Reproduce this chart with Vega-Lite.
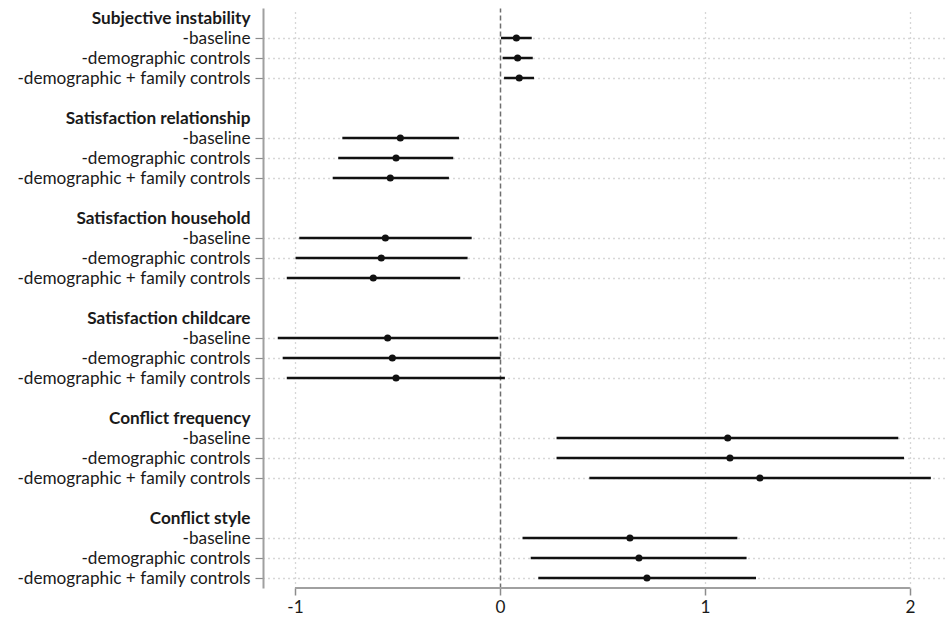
{
  "$schema": "https://vega.github.io/schema/vega-lite/v6.json",
  "autosize": "none",
  "width": 682,
  "height": 580,
  "padding": {"left": 263, "top": 8, "right": 5, "bottom": 31},
  "background": "white",
  "config": {
    "view": {"stroke": null},
    "font": "Lato",
    "axis": {"labelFont": "Lato", "labelColor": "#1a1a1a"}
  },
  "datasets": {
    "coefs": [
      {"row": "Subjective instability|-baseline", "est": 0.08, "lo": 0.005, "hi": 0.155},
      {"row": "Subjective instability|-demographic controls", "est": 0.086, "lo": 0.013, "hi": 0.16},
      {"row": "Subjective instability|-demographic + family controls", "est": 0.094, "lo": 0.02, "hi": 0.166},
      {"row": "Satisfaction relationship|-baseline", "est": -0.486, "lo": -0.769, "hi": -0.2},
      {"row": "Satisfaction relationship|-demographic controls", "est": -0.507, "lo": -0.789, "hi": -0.228},
      {"row": "Satisfaction relationship|-demographic + family controls", "est": -0.535, "lo": -0.816, "hi": -0.249},
      {"row": "Satisfaction household|-baseline", "est": -0.559, "lo": -0.979, "hi": -0.138},
      {"row": "Satisfaction household|-demographic controls", "est": -0.579, "lo": -0.997, "hi": -0.158},
      {"row": "Satisfaction household|-demographic + family controls", "est": -0.618, "lo": -1.04, "hi": -0.194},
      {"row": "Satisfaction childcare|-baseline", "est": -0.548, "lo": -1.084, "hi": -0.008},
      {"row": "Satisfaction childcare|-demographic controls", "est": -0.525, "lo": -1.06, "hi": 0.003},
      {"row": "Satisfaction childcare|-demographic + family controls", "est": -0.507, "lo": -1.04, "hi": 0.024},
      {"row": "Conflict frequency|-baseline", "est": 1.111, "lo": 0.276, "hi": 1.943},
      {"row": "Conflict frequency|-demographic controls", "est": 1.122, "lo": 0.276, "hi": 1.971},
      {"row": "Conflict frequency|-demographic + family controls", "est": 1.268, "lo": 0.436, "hi": 2.102},
      {"row": "Conflict style|-baseline", "est": 0.634, "lo": 0.11, "hi": 1.158},
      {"row": "Conflict style|-demographic controls", "est": 0.678, "lo": 0.15, "hi": 1.203},
      {"row": "Conflict style|-demographic + family controls", "est": 0.717, "lo": 0.187, "hi": 1.249}
    ]
  },
  "resolve": {"scale": {"y": "independent"}},
  "layer": [
    {
      "data": {"name": "coefs"},
      "mark": {"type": "rule", "color": "#111111", "strokeWidth": 2.5},
      "encoding": {
        "y": {
          "field": "row", "type": "nominal", "title": null,
          "scale": {
            "type": "point", "padding": 0.5,
            "domain": [
              "Subjective instability", "Subjective instability|-baseline", "Subjective instability|-demographic controls", "Subjective instability|-demographic + family controls",
              "gap1",
              "Satisfaction relationship", "Satisfaction relationship|-baseline", "Satisfaction relationship|-demographic controls", "Satisfaction relationship|-demographic + family controls",
              "gap2",
              "Satisfaction household", "Satisfaction household|-baseline", "Satisfaction household|-demographic controls", "Satisfaction household|-demographic + family controls",
              "gap3",
              "Satisfaction childcare", "Satisfaction childcare|-baseline", "Satisfaction childcare|-demographic controls", "Satisfaction childcare|-demographic + family controls",
              "gap4",
              "Conflict frequency", "Conflict frequency|-baseline", "Conflict frequency|-demographic controls", "Conflict frequency|-demographic + family controls",
              "gap5",
              "Conflict style", "Conflict style|-baseline", "Conflict style|-demographic controls", "Conflict style|-demographic + family controls"
            ]
          },
          "axis": {
            "labelExpr": "indexof(datum.value,'|') >= 0 ? substring(datum.value, indexof(datum.value,'|') + 1) : (indexof(datum.value,'gap') === 0 ? '' : datum.value)",
            "labelFontSize": 17.2,
            "labelLimit": 400,
            "labelFontWeight": {"condition": {"test": "indexof(datum.value,'|') < 0", "value": "bold"}, "value": "normal"},
            "labelPadding": 5,
            "tickSize": 8,
            "tickColor": "#8c8c8c",
            "tickWidth": 1.2,
            "tickOpacity": {"condition": {"test": "indexof(datum.value,'|') < 0", "value": 0}, "value": 1},
            "domainColor": "#a0a0a0",
            "domainWidth": 2,
            "grid": true,
            "gridColor": "#b0b0b0",
            "gridDash": [1, 4],
            "gridWidth": 1.3,
            "gridOpacity": {"condition": {"test": "indexof(datum.value,'|') < 0", "value": 0}, "value": 1}
          }
        },
        "x": {
          "field": "lo", "type": "quantitative", "title": null,
          "scale": {"domain": [-1.156, 2.171], "nice": false, "zero": false},
          "axis": {
            "values": [-1, 0, 1, 2],
            "labelExpr": "'' + datum.value",
            "domain": false,
            "labelFontSize": 17.2,
            "labelPadding": 3,
            "tickSize": 7,
            "tickColor": "#8c8c8c",
            "tickWidth": 1.5,
            "grid": true,
            "gridColor": {"condition": {"test": "datum.value === 0", "value": "#6e6e6e"}, "value": "#b0b0b0"},
            "gridDash": {"condition": {"test": "datum.value === 0", "value": [5, 3]}, "value": [1, 4]},
            "gridWidth": {"condition": {"test": "datum.value === 0", "value": 1.5}, "value": 1.3}
          }
        },
        "x2": {"field": "hi"}
      }
    },
    {
      "data": {"name": "coefs"},
      "mark": {"type": "circle", "color": "#111111", "opacity": 1, "size": 50},
      "encoding": {
        "y": {
          "field": "row", "type": "nominal", "axis": null,
          "scale": {
            "type": "point", "padding": 0.5,
            "domain": [
              "Subjective instability", "Subjective instability|-baseline", "Subjective instability|-demographic controls", "Subjective instability|-demographic + family controls",
              "gap1",
              "Satisfaction relationship", "Satisfaction relationship|-baseline", "Satisfaction relationship|-demographic controls", "Satisfaction relationship|-demographic + family controls",
              "gap2",
              "Satisfaction household", "Satisfaction household|-baseline", "Satisfaction household|-demographic controls", "Satisfaction household|-demographic + family controls",
              "gap3",
              "Satisfaction childcare", "Satisfaction childcare|-baseline", "Satisfaction childcare|-demographic controls", "Satisfaction childcare|-demographic + family controls",
              "gap4",
              "Conflict frequency", "Conflict frequency|-baseline", "Conflict frequency|-demographic controls", "Conflict frequency|-demographic + family controls",
              "gap5",
              "Conflict style", "Conflict style|-baseline", "Conflict style|-demographic controls", "Conflict style|-demographic + family controls"
            ]
          }
        },
        "x": {"field": "est", "type": "quantitative", "title": null}
      }
    },
    {
      "data": {"values": [{"from": -1, "to": 2}]},
      "mark": {"type": "rule", "color": "#a0a0a0", "strokeWidth": 2},
      "encoding": {
        "x": {"field": "from", "type": "quantitative", "title": null},
        "x2": {"field": "to"},
        "y": {"datum": 0, "type": "quantitative", "scale": {"domain": [0, 1]}, "axis": null}
      }
    }
  ]
}
